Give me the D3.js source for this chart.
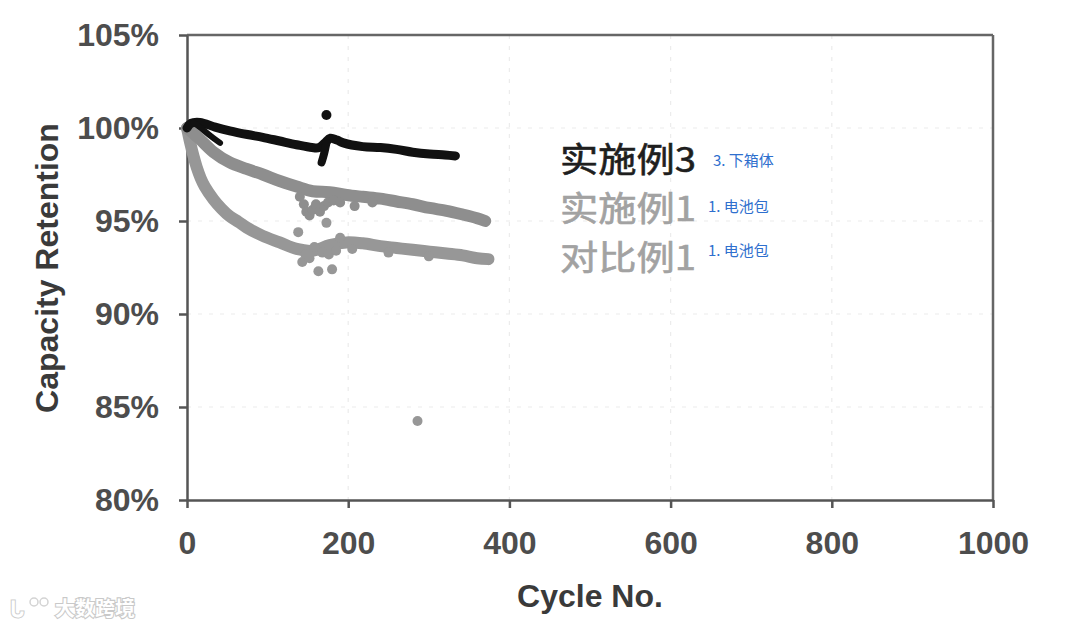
<!DOCTYPE html>
<html>
<head>
<meta charset="utf-8">
<script src="https://cdn.jsdelivr.net/npm/d3@7"></script>
<style>
  html, body { margin: 0; padding: 0; background: #fff; }
  svg { display: block; }
  text { font-family: "Liberation Sans", Arial, sans-serif; }
</style>
</head>
<body>
<svg id="chart" width="1080" height="630"></svg>
<script>
// ---------- data ----------
const xTicks = [0, 200, 400, 600, 800, 1000];
const yTicks = [80, 85, 90, 95, 100, 105];

// 实施例3 (black)
const ex3Cycles = [0, 5, 16, 35, 53, 75, 94, 115, 136, 155, 164, 171, 178, 186, 194, 218, 240, 260, 280, 301, 320, 333];
const ex3Values = [100.0, 100.25, 100.3, 100.05, 99.85, 99.65, 99.5, 99.3, 99.1, 98.95, 98.95, 99.2, 99.45, 99.35, 99.2, 99.0, 98.95, 98.85, 98.7, 98.6, 98.55, 98.5];
const ex3BranchCycles = [8, 20, 30, 41];
const ex3BranchValues = [100.3, 99.9, 99.55, 99.2];
const ex3DipCycles = [173, 170, 167];
const ex3DipValues = [99.2, 98.6, 98.15];
const ex3OutCycles = [173];
const ex3OutValues = [100.7];

// 实施例1 (gray, upper)
const ex1Cycles = [0, 8, 16, 33, 53, 74, 94, 115, 136, 156, 177, 198, 218, 240, 260, 280, 301, 322, 342, 360, 370];
const ex1Values = [100.0, 99.7, 99.4, 98.7, 98.15, 97.8, 97.5, 97.15, 96.85, 96.6, 96.55, 96.4, 96.3, 96.2, 96.05, 95.9, 95.7, 95.55, 95.35, 95.15, 95.0];
const ex1NoiseCycles = [140, 145, 148, 152, 156, 160, 165, 170, 175, 182, 190, 208, 230];
const ex1NoiseValues = [96.3, 95.9, 95.5, 95.3, 95.6, 95.9, 95.5, 95.8, 96.0, 96.1, 96.0, 95.8, 96.0];

// 对比例1 (gray, lower)
const cmpCycles = [0, 4, 8, 12, 17, 22, 33, 43, 53, 64, 74, 94, 115, 136, 156, 177, 198, 218, 240, 260, 280, 301, 322, 342, 360, 374];
const cmpValues = [100.0, 99.2, 98.5, 97.9, 97.3, 96.85, 96.15, 95.65, 95.25, 94.95, 94.65, 94.2, 93.85, 93.5, 93.4, 93.7, 93.85, 93.8, 93.65, 93.55, 93.45, 93.35, 93.25, 93.15, 93.0, 92.95];
const cmpNoiseCycles = [138, 143, 147, 152, 158, 163, 168, 173, 176, 180, 185, 190, 205, 250, 300, 286];
const cmpNoiseValues = [94.4, 92.8, 93.2, 93.0, 93.6, 92.3, 93.3, 94.9, 93.2, 92.4, 93.4, 94.1, 93.5, 93.3, 93.1, 84.25];

const legendLabels = ["实施例3", "实施例1", "对比例1"];
const noteLabels = ["3. 下箱体", "1. 电池包", "1. 电池包"];

// ---------- chart ----------
const svg = d3.select("#chart");
const x = d3.scaleLinear().domain([0, 1000]).range([187, 993]);
const y = d3.scaleLinear().domain([80, 105]).range([500, 35]);

const axisColor = "#555";
const textColor = "#4d4d4d";

// gridlines
svg.append("g").selectAll("line").data(xTicks.slice(1, -1)).join("line")
  .attr("x1", d => x(d)).attr("x2", d => x(d))
  .attr("y1", y(105)).attr("y2", y(80))
  .attr("stroke", "#ececec").attr("stroke-width", 1.2).attr("stroke-dasharray", "4,7");
svg.append("g").selectAll("line").data(yTicks.slice(1, -1)).join("line")
  .attr("x1", x(0)).attr("x2", x(1000))
  .attr("y1", d => y(d)).attr("y2", d => y(d))
  .attr("stroke", "#ececec").attr("stroke-width", 1.2).attr("stroke-dasharray", "4,7");

// frame top and right
svg.append("line").attr("x1", x(0)).attr("x2", x(1000)).attr("y1", y(105)).attr("y2", y(105))
  .attr("stroke", "#666").attr("stroke-width", 2.5);
svg.append("line").attr("x1", x(1000)).attr("x2", x(1000)).attr("y1", y(105)).attr("y2", y(80))
  .attr("stroke", "#666").attr("stroke-width", 2.5);

// axes
const yAxis = d3.axisLeft(y).tickValues(yTicks).tickSize(8).tickSizeOuter(0).tickPadding(20)
  .tickFormat(d => d + "%");
const gy = svg.append("g").attr("transform", `translate(${x(0)},0)`).call(yAxis);
const xAxis = d3.axisBottom(x).tickValues(xTicks).tickSize(8).tickSizeOuter(0).tickPadding(23)
  .tickFormat(d3.format("d"));
const gx = svg.append("g").attr("transform", `translate(0,${y(80)})`).call(xAxis);
[gx, gy].forEach(g => {
  g.select(".domain").attr("stroke", axisColor).attr("stroke-width", 2.5);
  g.selectAll(".tick line").attr("stroke", axisColor).attr("stroke-width", 2.5);
  g.selectAll(".tick text").attr("fill", textColor)
    .style("font-size", "32px").style("font-weight", "bold")
    .style("font-family", "'Liberation Sans', Arial, sans-serif");
});

// axis titles
svg.append("text").attr("x", 590).attr("y", 607).attr("text-anchor", "middle")
  .attr("fill", "#3a3a3a").style("font-size", "32px").style("font-weight", "bold")
  .text("Cycle No.");
svg.append("text").attr("transform", "translate(58,268) rotate(-90)").attr("text-anchor", "middle")
  .attr("fill", "#3a3a3a").style("font-size", "32px").style("font-weight", "bold")
  .text("Capacity Retention");

// series
const line = d3.line().x(d => x(d[0])).y(d => y(d[1])).curve(d3.curveCatmullRom.alpha(0.5));
const zip = (a, b) => a.map((v, i) => [v, b[i]]);

const gray1 = "#8e8e8e", gray2 = "#979797", black = "#111";

function drawLine(data, color, w) {
  svg.append("path").datum(data).attr("d", line)
    .attr("fill", "none").attr("stroke", color).attr("stroke-width", w)
    .attr("stroke-linecap", "round").attr("stroke-linejoin", "round");
}
function drawDots(data, color, r) {
  svg.append("g").selectAll("circle").data(data).join("circle")
    .attr("cx", d => x(d[0])).attr("cy", d => y(d[1])).attr("r", r).attr("fill", color);
}

drawLine(zip(cmpCycles, cmpValues), gray2, 12);
drawDots(zip(cmpNoiseCycles, cmpNoiseValues), gray2, 5);
drawLine(zip(ex1Cycles, ex1Values), gray1, 12);
drawDots(zip(ex1NoiseCycles, ex1NoiseValues), gray1, 5);
drawLine(zip(ex3Cycles, ex3Values), black, 9);
drawLine(zip(ex3BranchCycles, ex3BranchValues), black, 6);
drawLine(zip(ex3DipCycles, ex3DipValues), black, 8);
drawDots(zip(ex3OutCycles, ex3OutValues), black, 5);

// legend text
const legendY = [172, 221, 270];
const legendColors = ["#1e1e1e", "#a2a2a2", "#a2a2a2"];
svg.append("g").selectAll("text").data(legendLabels).join("text")
  .attr("x", 560).attr("y", (d, i) => legendY[i])
  .attr("fill", (d, i) => legendColors[i])
  .style("font-family", "'Noto Sans CJK SC', sans-serif")
  .style("font-size", "34px").style("font-weight", "400")
  .attr("stroke", (d, i) => legendColors[i]).attr("stroke-width", 0.6)
  .attr("textLength", 136).attr("lengthAdjust", "spacingAndGlyphs")
  .text(d => d);

const noteX = [713, 708, 708];
const noteY = [166, 212, 256];
svg.append("g").selectAll("text").data(noteLabels).join("text")
  .attr("x", (d, i) => noteX[i]).attr("y", (d, i) => noteY[i])
  .attr("fill", "#2f6fce")
  .style("font-family", "'Noto Sans CJK SC', sans-serif")
  .style("font-size", "15px")
  .text(d => d);

// watermark
const wm = svg.append("g").attr("opacity", 0.9);
wm.append("text").attr("x", 10).attr("y", 617).text("ᒐ")
  .attr("fill", "#fff").attr("stroke", "#c8c8c8").attr("stroke-width", 2).attr("paint-order", "stroke")
  .style("font-size", "22px").style("font-weight", "bold");
wm.append("circle").attr("cx", 34).attr("cy", 602).attr("r", 4).attr("fill", "none").attr("stroke", "#cfcfcf").attr("stroke-width", 1.5);
wm.append("circle").attr("cx", 44).attr("cy", 602).attr("r", 4).attr("fill", "none").attr("stroke", "#cfcfcf").attr("stroke-width", 1.5);
wm.append("text").attr("x", 55).attr("y", 616).text("大数跨境")
  .attr("fill", "#fff").attr("stroke", "#c4c4c4").attr("stroke-width", 2.2).attr("paint-order", "stroke")
  .style("font-family", "'Noto Sans CJK SC', sans-serif").style("font-size", "20px").style("font-weight", "bold");
</script>
</body>
</html>
